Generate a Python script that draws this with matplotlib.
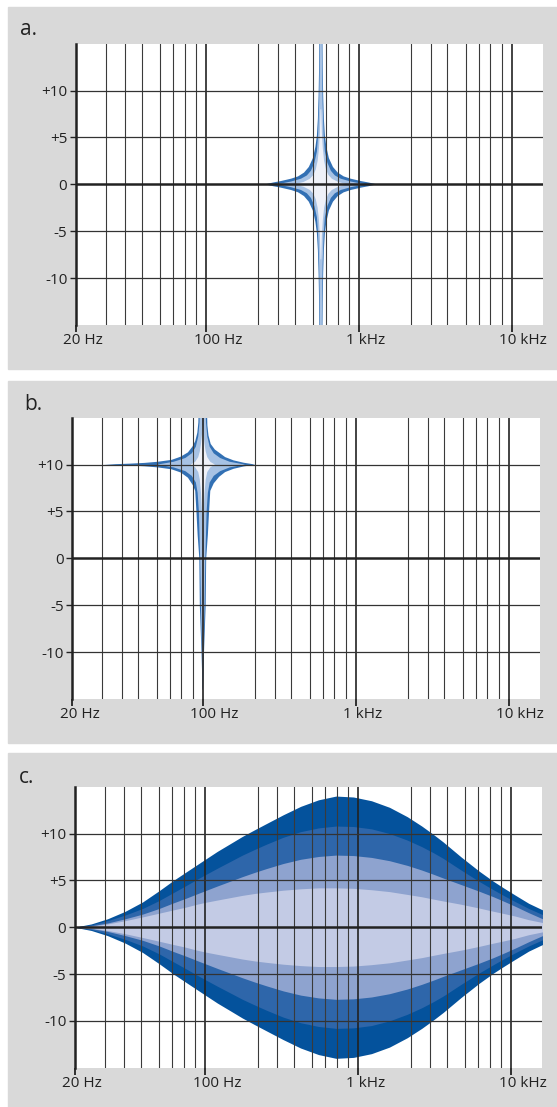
import numpy as np
import matplotlib.pyplot as plt
from matplotlib.patches import Rectangle
from matplotlib.ticker import NullLocator

plt.rcParams['font.family'] = ['Open Sans', 'DejaVu Sans']

W, H = 557, 1107

# axis
x_lo, x_hi = 14, 16000
x_major = [14, 100, 1000, 10000]
x_major_labels = ['20 Hz', '100 Hz', '1 kHz', '10 kHz']
x_minor_mult = [2.2, 2.95, 3.8, 5.0, 6.1, 7.25, 8.6]   # grid lines inside every decade (as drawn)
y_ticks = [-10, -5, 0, 5, 10]
y_labels = ['-10', '-5', '0', '+5', '+10']

# a. narrow band at ~564 Hz, 0 dB  -- quadrant outline (freq ratio from centre, dB from centre)
a_f0, a_y0 = 564, 0
a_dark = [(2.32, 0.0), (2.05, 0.2), (1.83, 0.35), (1.57, 0.6), (1.41, 0.85), (1.29, 1.25),
          (1.20, 1.85), (1.128, 2.8), (1.086, 4.0), (1.062, 5.2), (1.046, 7.0),
          (1.035, 9.5), (1.027, 12.5), (1.023, 16.0)]
a_light = [(2.0, 0.0), (1.75, 0.15), (1.57, 0.3), (1.35, 0.6), (1.235, 0.95), (1.162, 1.45),
           (1.103, 2.3), (1.062, 3.5), (1.043, 5.3), (1.027, 8.5), (1.018, 12.5), (1.014, 16.0)]
a_white = [(1.5, 0.0), (1.3, 0.25), (1.18, 0.6), (1.12, 1.0), (1.08, 1.6), (1.05, 2.5),
           (1.03, 3.8), (1.015, 5.5), (1.005, 8.0)]

# b. narrow band at 100 Hz, +10 dB
b_f0, b_y0 = 100, 10
b_dark_ur = [(2.2, 0.0), (1.85, 0.2), (1.59, 0.45), (1.40, 0.8), (1.31, 1.15), (1.20, 1.6),
             (1.127, 2.2), (1.09, 3.1), (1.072, 4.2), (1.065, 6.0)]
b_dark_ul = [(4.4, 0.0), (3.0, 0.1), (2.4, 0.18), (1.97, 0.3), (1.6, 0.5), (1.39, 0.85),
             (1.25, 1.3), (1.17, 1.9), (1.12, 2.5), (1.085, 3.4), (1.068, 4.5), (1.065, 6.0)]
b_dark_lr = [(2.2, 0.0), (1.85, 0.2), (1.59, 0.45), (1.40, 0.8), (1.28, 1.3), (1.18, 2.0),
             (1.12, 2.8), (1.10, 5.0), (1.08, 7.5), (1.053, 10.0), (1.045, 15.0),
             (1.019, 20.0), (1.003, 24.0)]
b_dark_ll = [(4.4, 0.0), (3.0, 0.1), (2.4, 0.18), (1.97, 0.3), (1.6, 0.5), (1.39, 0.85),
             (1.25, 1.4), (1.16, 2.2), (1.12, 2.8), (1.10, 5.0), (1.08, 7.5), (1.053, 10.0),
             (1.045, 15.0), (1.019, 20.0), (1.003, 24.0)]
b_light_u = [(1.89, 0.0), (1.5, 0.3), (1.3, 0.7), (1.18, 1.2), (1.11, 1.9), (1.07, 3.0),
             (1.05, 4.5), (1.045, 6.0)]
b_light_ul = [(1.98, 0.0), (1.55, 0.3), (1.3, 0.7), (1.18, 1.2), (1.11, 1.9), (1.07, 3.0),
              (1.05, 4.5), (1.045, 6.0)]
b_light_d = [(1.89, 0.0), (1.5, 0.3), (1.3, 0.7), (1.18, 1.2), (1.11, 1.9), (1.08, 3.0),
             (1.06, 5.0), (1.04, 10.0), (1.028, 15.0), (1.012, 20.0), (1.003, 23.5)]
b_light_dl = [(1.98, 0.0), (1.55, 0.3), (1.3, 0.7), (1.18, 1.2), (1.11, 1.9), (1.08, 3.0),
              (1.06, 5.0), (1.04, 10.0), (1.028, 15.0), (1.012, 20.0), (1.003, 23.5)]
b_white_u = [(1.2, 0.0), (1.12, 0.3), (1.07, 0.8), (1.045, 1.4), (1.027, 2.2), (1.012, 3.2),
             (1.003, 4.2)]
b_white_d = [(1.2, 0.0), (1.12, 0.3), (1.07, 0.8), (1.045, 1.6), (1.027, 3.0), (1.013, 5.0),
             (1.003, 8.0)]

# c. wide band at ~716 Hz, four gain steps (upper edges, lower edges mirror them)
c_freq = [14, 18, 23, 30, 39, 50, 62, 75, 88, 100, 120, 145, 175, 210, 250, 323, 420, 550,
          716, 930, 1220, 1600, 2090, 2600, 3100, 3590, 4700, 6150, 7640, 9000, 10550,
          13000, 16000]
c_gain1 = [0, 0.35, 0.9, 1.7, 2.7, 3.9, 5.0, 5.9, 6.65, 7.25, 8.1, 8.9, 9.7, 10.4, 11.05,
           12.0, 12.9, 13.6, 14.0, 13.9, 13.5, 12.8, 11.8, 10.8, 9.9, 9.1, 7.5, 6.0, 4.9,
           4.15, 3.45, 2.55, 1.85]
c_gain2 = [0, 0.25, 0.7, 1.3, 2.0, 2.85, 3.7, 4.45, 5.1, 5.6, 6.3, 7.0, 7.7, 8.3, 8.85, 9.6,
           10.2, 10.6, 10.8, 10.75, 10.5, 10.0, 9.3, 8.6, 7.95, 7.35, 6.1, 4.9, 4.0, 3.35,
           2.75, 2.0, 1.35]
c_gain3 = [0, 0.15, 0.45, 0.9, 1.4, 2.0, 2.6, 3.1, 3.55, 3.9, 4.4, 4.9, 5.4, 5.85, 6.25, 6.8,
           7.25, 7.55, 7.7, 7.65, 7.45, 7.1, 6.6, 6.1, 5.65, 5.25, 4.55, 3.85, 3.25, 2.75,
           2.25, 1.55, 0.9]
c_gain4 = [0, 0.1, 0.35, 0.7, 1.1, 1.5, 1.85, 2.15, 2.45, 2.65, 2.9, 3.15, 3.4, 3.6, 3.75,
           3.95, 4.1, 4.2, 4.2, 4.15, 4.0, 3.8, 3.5, 3.25, 3.0, 2.8, 2.45, 2.05, 1.7, 1.45,
           1.2, 0.8, 0.5]

star_colors = ['#3270b4', '#a7c2e4', '#eff1f8']
band_colors = ['#04529c', '#2e66aa', '#8ea3cf', '#c3cbe5']
grey = '#d9d9d9'
ink = '#222222'

fig = plt.figure(figsize=(W / 100, H / 100), dpi=100)


def px_box(l, t, r, b):
    return [l / W, 1 - b / H, (r - l) / W, (b - t) / H]


def star(ax, f0, y0, ur, ul, lr, ll, color):
    xs, ys = [], []
    for r, d in ul:
        xs.append(f0 / r); ys.append(y0 + d)
    for r, d in reversed(ur):
        xs.append(f0 * r); ys.append(y0 + d)
    for r, d in lr:
        xs.append(f0 * r); ys.append(y0 - d)
    for r, d in reversed(ll):
        xs.append(f0 / r); ys.append(y0 - d)
    ax.fill(xs, ys, color=color, lw=0, zorder=1)


def setup(ax, letter, letter_xy):
    ax.set_xscale('log')
    ax.set_xlim(x_lo, x_hi)
    ax.set_ylim(-15, 15)
    for s in ['top', 'right', 'bottom']:
        ax.spines[s].set_visible(False)
    ax.spines['left'].set_linewidth(1.8)
    ax.spines['left'].set_color(ink)
    ax.spines['left'].set_zorder(5)
    ax.set_yticks(y_ticks)
    ax.set_yticklabels(y_labels)
    ax.tick_params(axis='y', length=4, width=1, pad=2, labelsize=11, color=ink, labelcolor=ink)
    ax.set_xticks(x_major)
    ax.set_xticklabels([])
    ax.xaxis.set_minor_locator(NullLocator())
    ax.tick_params(axis='x', length=5, width=1.3, color=ink)
    for dec in [10, 100, 1000]:
        for m in x_minor_mult:
            if x_lo < dec * m < x_hi:
                ax.axvline(dec * m, color='#3a3a3a', lw=0.8, zorder=3)
    for f in x_major[1:]:
        ax.axvline(f, color=ink, lw=1.2, zorder=3)
    for y in y_ticks:
        if y != 0:
            ax.axhline(y, color='#333333', lw=0.9, zorder=3)
    ax.axhline(0, color=ink, lw=1.8, zorder=4)
    for f, lab in zip(x_major, x_major_labels):
        ax.annotate(lab, xy=(f, 0), xycoords=('data', 'axes fraction'),
                    xytext=(-9, -6), textcoords='offset points',
                    ha='left', va='top', fontsize=11, color=ink)
    fig.text(letter_xy[0] / W, 1 - letter_xy[1] / H, letter, fontsize=15,
             color=ink, va='baseline', ha='left')


# grey panels
for top, bot in [(7.3, 369), (380.7, 743), (752.7, 1110)]:
    fig.patches.append(Rectangle((8 / W, 1 - bot / H), 1, (bot - top) / H,
                                 transform=fig.transFigure, color=grey, zorder=-10))

ax_a = fig.add_axes(px_box(75.7, 43.7, 542.8, 325))
ax_b = fig.add_axes(px_box(72.1, 417.7, 540, 699))
ax_c = fig.add_axes(px_box(74.6, 786.7, 542.5, 1067.7))

setup(ax_a, 'a.', (20, 35))
setup(ax_b, 'b.', (24, 410))
setup(ax_c, 'c.', (19, 783))

for q, col in zip([a_dark, a_light, a_white], star_colors):
    star(ax_a, a_f0, a_y0, q, q, q, q, col)

star(ax_b, b_f0, b_y0, b_dark_ur, b_dark_ul, b_dark_lr, b_dark_ll, star_colors[0])
star(ax_b, b_f0, b_y0, b_light_u, b_light_ul, b_light_d, b_light_dl, star_colors[1])
star(ax_b, b_f0, b_y0, b_white_u, b_white_u, b_white_d, b_white_d, star_colors[2])

for g, col in zip([c_gain1, c_gain2, c_gain3, c_gain4], band_colors):
    g = np.array(g)
    ax_c.fill_between(c_freq, -g, g, color=col, lw=0, zorder=1)

fig.savefig('out.png', dpi=100)
